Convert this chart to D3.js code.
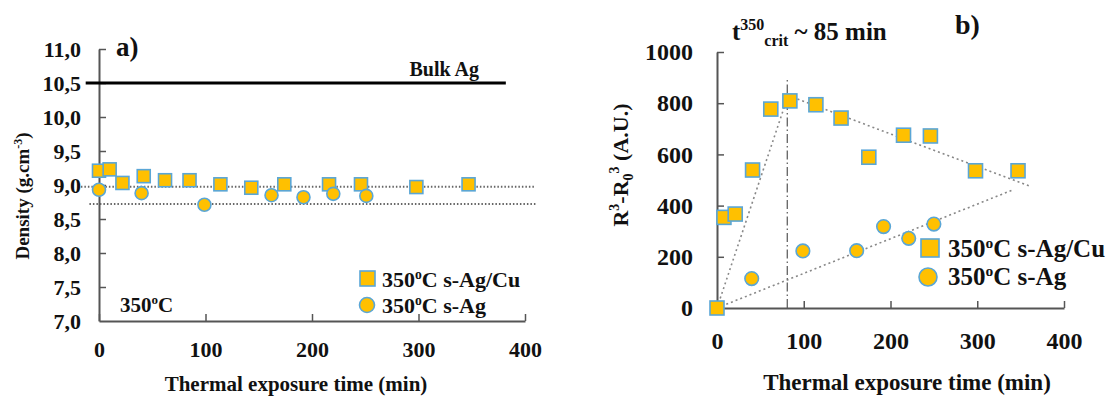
<!DOCTYPE html>
<html>
<head>
<meta charset="utf-8">
<script src="https://cdn.jsdelivr.net/npm/d3@7.9.0/dist/d3.min.js"></script>
<style>
  body { margin: 0; background: #fff; }
  svg { display: block; }
  svg text { font-family: "Liberation Serif", "Times New Roman", serif; font-weight: bold; fill: #111; }
</style>
</head>
<body>
<svg id="chart" width="1120" height="398"></svg>
<script>
// ---- panel a: density vs time ----
const agCuTimeA = [0, 10, 22, 42, 62, 85, 114, 143, 174, 216, 246, 298, 347];
const agCuDensity = [9.21, 9.23, 9.03, 9.13, 9.07, 9.07, 9.01, 8.96, 9.01, 9.01, 9.01, 8.97, 9.01];
const agTimeA = [0, 40, 99, 162, 192, 220, 251];
const agDensity = [8.93, 8.88, 8.71, 8.85, 8.82, 8.87, 8.84];
const densityTicks = [7.0, 7.5, 8.0, 8.5, 9.0, 9.5, 10.0, 10.5, 11.0];
const timeTicks = [0, 100, 200, 300, 400];
const bulkAg = 10.5;
const meanLines = [8.975, 8.72];

// ---- panel b: R^3 - R0^3 vs time ----
const agCuTimeB = [0, 8, 21, 41, 62, 84, 114, 143, 175, 215, 246, 298, 347];
const agCuGrowth = [0, 354, 367, 539, 777, 809, 794, 742, 589, 675, 672, 536, 536];
const agTimeB = [40, 99, 161, 192, 221, 250];
const agGrowth = [115, 223, 224, 318, 272, 328];
const growthTicks = [0, 200, 400, 600, 800, 1000];
const tCrit = 81;
const trendLines = [
  [[0, 0], [82, 830]],
  [[82, 830], [362, 474]],
  [[0, 0], [340, 460]]
];

const svg = d3.select('#chart');
const fill = '#FFC000';
const edge = '#5AA6D6';
const axisColor = '#555';
const serif = '"Liberation Serif", "Times New Roman", serif';

function drawAxes(g, x, y, yTicks, yFmt, fs, padX, padY) {
  const ax = g.append('g')
    .attr('transform', `translate(0,${y.range()[0]})`)
    .call(d3.axisBottom(x).tickValues(timeTicks).tickSizeInner(-7).tickSizeOuter(0).tickPadding(padX));
  const ay = g.append('g')
    .attr('transform', `translate(${x.range()[0]},0)`)
    .call(d3.axisLeft(y).tickValues(yTicks).tickFormat(yFmt).tickSizeInner(-7).tickSizeOuter(0).tickPadding(padY));
  [ax, ay].forEach(a => {
    a.attr('font-family', serif).attr('font-size', fs).attr('font-weight', 'bold');
    a.select('.domain').attr('stroke', axisColor).attr('stroke-width', 2);
    a.selectAll('.tick line').attr('stroke', axisColor).attr('stroke-width', 1.5);
    a.selectAll('.tick text').attr('fill', '#111').style('font-size', fs + 'px');
  });
  ay.selectAll('.tick line').filter(d => d === yTicks[0]).remove();
}

function drawSquares(g, xs, ys, x, y, size) {
  g.selectAll(null).data(xs).join('rect')
    .attr('x', (d) => x(d) - size / 2)
    .attr('y', (d, i) => y(ys[i]) - size / 2)
    .attr('width', size).attr('height', size)
    .attr('fill', fill).attr('stroke', edge).attr('stroke-width', 1.6);
}

function drawCircles(g, xs, ys, x, y, r) {
  g.selectAll(null).data(xs).join('circle')
    .attr('cx', (d) => x(d))
    .attr('cy', (d, i) => y(ys[i]))
    .attr('r', r)
    .attr('fill', fill).attr('stroke', edge).attr('stroke-width', 1.6);
}

function degreeLabel(t, fs, rest) {
  t.style('font-size', fs + 'px');
  t.append('tspan').text('350');
  t.append('tspan').text('o').attr('dy', -fs * 0.36).style('font-size', (fs * 0.62) + 'px');
  t.append('tspan').text('C' + rest).attr('dy', fs * 0.36);
}

// ================= panel a =================
const xa = d3.scaleLinear().domain([0, 400]).range([99, 525]);
const ya = d3.scaleLinear().domain([7, 11]).range([321, 49]);
const ga = svg.append('g');

drawAxes(ga, xa, ya, densityTicks, d => d.toFixed(1).replace('.', ','), 22, 20, 18);

ga.selectAll(null).data(meanLines).join('line')
  .attr('x1', (d, i) => xa(i ? -9 : -17)).attr('x2', (d, i) => xa(i ? 411 : 409))
  .attr('y1', d => ya(d)).attr('y2', d => ya(d))
  .attr('stroke', '#666').attr('stroke-width', 2).attr('stroke-dasharray', '1.5,2');

ga.append('line')
  .attr('x1', xa(-12.5)).attr('x2', xa(382))
  .attr('y1', ya(bulkAg)).attr('y2', ya(bulkAg))
  .attr('stroke', '#000').attr('stroke-width', 3);
ga.append('text').attr('x', 479).attr('y', 76)
  .attr('text-anchor', 'end').style('font-size', '20px').text('Bulk Ag');

drawSquares(ga, agCuTimeA, agCuDensity, xa, ya, 13);
drawCircles(ga, agTimeA, agDensity, xa, ya, 6.5);

ga.append('text').attr('x', 116).attr('y', 56).style('font-size', '27px').text('a)');
degreeLabel(ga.append('text').attr('x', 120).attr('y', 312), 21, '');

// legend a
const la = ga.append('g');
la.append('rect').attr('x', 360).attr('y', 271).attr('width', 15).attr('height', 15)
  .attr('fill', fill).attr('stroke', edge).attr('stroke-width', 1.6);
la.append('circle').attr('cx', 367).attr('cy', 305).attr('r', 7.5)
  .attr('fill', fill).attr('stroke', edge).attr('stroke-width', 1.6);
degreeLabel(la.append('text').attr('x', 382).attr('y', 287), 22, ' s-Ag/Cu');
degreeLabel(la.append('text').attr('x', 382).attr('y', 313), 22, ' s-Ag');

ga.append('text').attr('x', 296).attr('y', 391).attr('text-anchor', 'middle')
  .style('font-size', '21px').text('Thermal exposure time (min)');
const dl = ga.append('text').attr('transform', 'translate(29,196) rotate(-90)')
  .attr('text-anchor', 'middle').style('font-size', '19px');
dl.append('tspan').text('Density (g.cm');
dl.append('tspan').text('-3').attr('dy', -7).style('font-size', '12px');
dl.append('tspan').text(')').attr('dy', 7);

// ================= panel b =================
const xb = d3.scaleLinear().domain([0, 400]).range([717, 1064]);
const yb = d3.scaleLinear().domain([0, 1000]).range([308, 52]);
const gb = svg.append('g');

drawAxes(gb, xb, yb, growthTicks, d3.format('d'), 24, 24, 24);

gb.selectAll(null).data(trendLines).join('line')
  .attr('x1', d => xb(d[0][0])).attr('y1', d => yb(d[0][1]))
  .attr('x2', d => xb(d[1][0])).attr('y2', d => yb(d[1][1]))
  .attr('stroke', '#888').attr('stroke-width', 1.6).attr('stroke-dasharray', '2,3');

gb.append('line')
  .attr('x1', xb(tCrit)).attr('x2', xb(tCrit))
  .attr('y1', yb(0)).attr('y2', yb(900))
  .attr('stroke', '#555').attr('stroke-width', 1.2).attr('stroke-dasharray', '9,3,1.5,3');

drawSquares(gb, agCuTimeB, agCuGrowth, xb, yb, 14);
drawCircles(gb, agTimeB, agGrowth, xb, yb, 6.8);

const tt = gb.append('text').attr('x', 732).attr('y', 40).style('font-size', '25px');
tt.append('tspan').text('t');
tt.append('tspan').text('350').attr('dy', -10).style('font-size', '16px');
tt.append('tspan').text('crit').attr('dy', 16).style('font-size', '16px');
tt.append('tspan').text(' ~ 85 min').attr('dy', -6);

gb.append('text').attr('x', 955).attr('y', 34).style('font-size', '28px').text('b)');

// legend b
const lb = gb.append('g');
lb.append('rect').attr('x', 921).attr('y', 239).attr('width', 18).attr('height', 18)
  .attr('fill', fill).attr('stroke', edge).attr('stroke-width', 1.6);
lb.append('circle').attr('cx', 928).attr('cy', 277).attr('r', 9)
  .attr('fill', fill).attr('stroke', edge).attr('stroke-width', 1.6);
degreeLabel(lb.append('text').attr('x', 948).attr('y', 257), 25, ' s-Ag/Cu');
degreeLabel(lb.append('text').attr('x', 948).attr('y', 285), 25, ' s-Ag');

gb.append('text').attr('x', 907).attr('y', 390).attr('text-anchor', 'middle')
  .style('font-size', '23px').text('Thermal exposure time (min)');
const rl = gb.append('text').attr('transform', 'translate(628,165) rotate(-90)')
  .attr('text-anchor', 'middle').style('font-size', '22px');
rl.append('tspan').text('R');
rl.append('tspan').text('3').attr('dy', -9).style('font-size', '14px');
rl.append('tspan').text('-R').attr('dy', 9);
rl.append('tspan').text('0').attr('dy', 5).style('font-size', '14px');
rl.append('tspan').text('3').attr('dy', -14).style('font-size', '14px');
rl.append('tspan').text(' (A.U.)').attr('dy', 9);
</script>
</body>
</html>
